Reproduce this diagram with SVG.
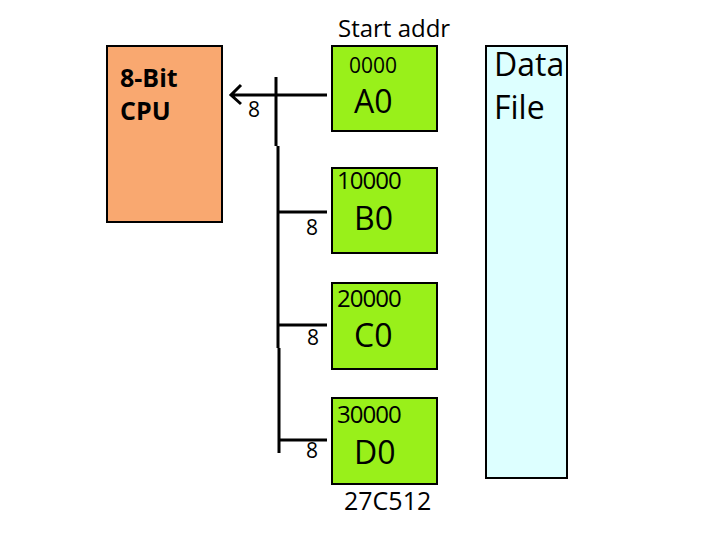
<svg xmlns="http://www.w3.org/2000/svg" width="720" height="540" viewBox="0 0 720 540">
<style>
text{font-family:"Open Sans","DejaVu Sans",sans-serif;fill:#000}
.chip{fill:#99F01A;stroke:#000;stroke-width:2}
.addr{font-size:24px;letter-spacing:-1px}
.name{font-size:32px}
.w{font-size:21px}
.bus{stroke:#000;stroke-width:3;fill:none}
</style>
<rect width="720" height="540" fill="#fff"/>
<g id="cpu">
<rect x="107" y="46" width="115" height="176" fill="#F9A870" stroke="#000" stroke-width="2"/>
<text x="120" y="87" font-size="25" font-weight="bold">8-Bit</text>
<text x="120" y="120" font-size="25" font-weight="bold">CPU</text>
</g>
<g id="a0">
<rect class="chip" x="332" y="46" width="105" height="85"/>
<text x="349" y="73" font-size="21">0000</text>
<text class="name" x="354" y="113">A0</text>
</g>
<g id="b0">
<rect class="chip" x="332" y="168" width="105" height="85"/>
<text class="addr" x="337" y="189">10000</text>
<text class="name" x="354" y="230">B0</text>
</g>
<g id="c0">
<rect class="chip" x="332" y="283" width="105" height="86"/>
<text class="addr" x="337" y="307">20000</text>
<text class="name" x="354" y="347">C0</text>
</g>
<g id="d0">
<rect class="chip" x="332" y="398" width="105" height="86"/>
<text class="addr" x="337" y="423">30000</text>
<text class="name" x="354" y="464">D0</text>
</g>
<g id="datafile">
<rect x="486" y="46" width="81" height="432" fill="#DDFFFF" stroke="#000" stroke-width="2"/>
<text x="494" y="76" font-size="32">Data</text>
<text x="494" y="119" font-size="32">File</text>
</g>
<text x="338" y="37" font-size="24">Start addr</text>
<text x="344" y="510" font-size="25">27C512</text>
<g id="connectors">
<path class="bus" d="M276 77V146M278 146V348M279 348V453"/>
<path class="bus" d="M327 95H231M241 85L231 95L241 104"/>
<path class="bus" d="M278 212H327M279 325H327M279 440H327"/>
<text class="w" x="248" y="117">8</text>
<text class="w" x="306" y="235">8</text>
<text class="w" x="307" y="345">8</text>
<text class="w" x="306" y="458">8</text>
</g>
</svg>
